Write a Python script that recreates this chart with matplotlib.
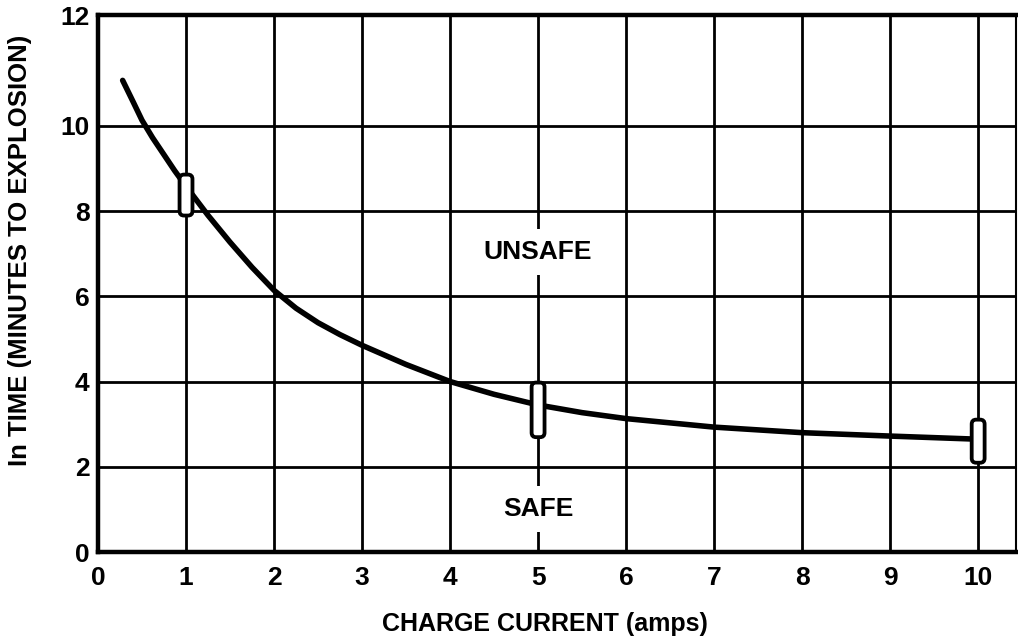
import numpy as np
import matplotlib
matplotlib.use("Agg")
import matplotlib.pyplot as plt
from matplotlib.patches import FancyBboxPatch

# data
current = [0.28, 0.4, 0.5, 0.62, 0.75, 0.87, 1.0, 1.25, 1.5, 1.75, 2.0, 2.25,
           2.5, 2.75, 3.0, 3.5, 4.0, 4.5, 5.0, 5.5, 6.0, 7.0, 8.0, 9.0, 9.95]
time_min = [10.82, 10.43, 10.1, 9.72, 9.32, 8.95, 8.58, 7.9, 7.27, 6.68, 6.14,
            5.72, 5.38, 5.1, 4.85, 4.4, 4.0, 3.7, 3.45, 3.27, 3.13, 2.93,
            2.8, 2.72, 2.65]
marker_x = [1, 5, 10]
marker_low = [7.85, 2.65, 2.05]
marker_high = [8.9, 4.02, 3.15]
x_ticks = [0, 1, 2, 3, 4, 5, 6, 7, 8, 9, 10]
y_ticks = [0, 2, 4, 6, 8, 10, 12]
region_labels = ["UNSAFE", "SAFE"]
region_y = [7.03, 1.0]
region_x = [5, 5]

plt.rcParams['font.family'] = ['Liberation Sans', 'DejaVu Sans']
plt.rcParams['font.weight'] = 'bold'

fig = plt.figure(figsize=(10.18, 6.44), dpi=100)
ax = fig.add_axes([98/1018, 1-552/644, (1016-98)/1018, (552-15)/644])

# the original chart's top band (10-12) is drawn taller than the others
def fwd(y):
    y = np.asarray(y, dtype=float)
    return np.where(y <= 10, y, 10 + (y - 10) * 1.3)

def inv(z):
    z = np.asarray(z, dtype=float)
    return np.where(z <= 10, z, 10 + (z - 10) / 1.3)

ax.set_yscale('function', functions=(fwd, inv))
ax.set_xlim(0, 10.43)
ax.set_ylim(0, 12)
ax.set_xticks(x_ticks)
ax.set_yticks(y_ticks)
ax.yaxis.set_minor_locator(matplotlib.ticker.NullLocator())
ax.tick_params(length=0, labelsize=19)
ax.tick_params(axis='y', pad=6)
ax.tick_params(axis='x', pad=10)
for lab in ax.get_xticklabels() + ax.get_yticklabels():
    lab.set_fontweight('bold')
ax.grid(True, color='black', linewidth=2.0)
for s in ax.spines.values():
    s.set_linewidth(3.2)
    s.set_color('black')
ax.spines['right'].set_linewidth(1.5)

ax.plot(current, time_min, color='black', linewidth=4.0,
        solid_capstyle='round', solid_joinstyle='round', zorder=3)

w_outer = 0.19
lw_px = 3.8
for mx, lo, hi in zip(marker_x, marker_low, marker_high):
    w = w_outer - lw_px / 88
    h = (hi - lo) - lw_px / 42.8
    r = 4.5 / 88
    p = FancyBboxPatch((mx - w / 2, lo + lw_px / 2 / 42.8), w, h,
                       boxstyle=f"round,pad=0,rounding_size={r}",
                       mutation_aspect=88 / 42.8,
                       facecolor='white', edgecolor='black',
                       linewidth=lw_px * 0.72, zorder=4)
    ax.add_patch(p)

for t, tx, ty in zip(region_labels, region_x, region_y):
    ax.text(tx, ty, t, ha='center', va='center', fontsize=19,
            fontweight='bold', zorder=5,
            bbox=dict(facecolor='white', edgecolor='none', pad=8))

ax.set_xlabel("CHARGE CURRENT (amps)", fontsize=18, fontweight='bold')
ax.xaxis.set_label_coords((545-98)/918, -(612-552)/537)
ax.set_ylabel("In TIME (MINUTES TO EXPLOSION)", fontsize=18.5, fontweight='bold')
ax.yaxis.set_label_coords(-(98-32)/918, (552-250)/537)

fig.savefig("out.png", dpi=100)
